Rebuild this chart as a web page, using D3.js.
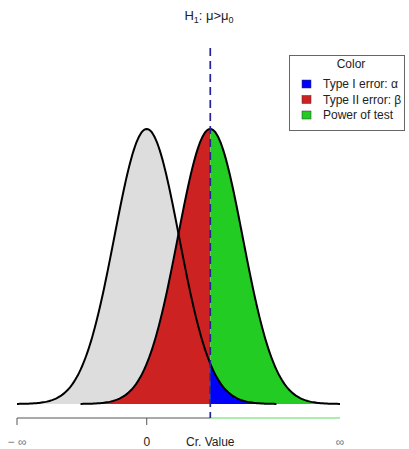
<!DOCTYPE html>
<html>
<head>
<meta charset="utf-8">
<script src="https://cdn.jsdelivr.net/npm/d3@7"></script>
<style>
  body { margin: 0; background: #fff; }
  text { font-family: "Liberation Sans", Arial, sans-serif; }
</style>
</head>
<body>
<svg width="409" height="449"></svg>
<script>
// parameters of the two distributions (standard units)
const mu0 = 0, mu1 = 1.96, sd = 1;
const critValue = 1.96;
const span = 4; // each curve drawn to +-4 sd

const legendLabels = ["Type I error: \u03b1", "Type II error: \u03b2", "Power of test"];
const legendColors = ["#0000ff", "#cc2222", "#22cc22"];
const tickValues = [mu0 - span, mu0, critValue, mu1 + span];
const tickLabels = ["\u2212 \u221e", "0", "Cr. Value", "\u221e"];

const svg = d3.select("svg");

const x = d3.scaleLinear().domain([mu0 - span, mu1 + span]).range([17, 340]);
const y = d3.scaleLinear().domain([0, 0.3989]).range([404, 129]);

const dens = (v, m) => Math.exp(-0.5 * ((v - m) / sd) ** 2) / (sd * Math.sqrt(2 * Math.PI));
const pts = (a, b, m) => d3.range(0, 201).map(i => {
  const v = a + (b - a) * i / 200;
  return [v, dens(v, m)];
});

const area = d3.area().x(d => x(d[0])).y0(y(0)).y1(d => y(d[1]));
const line = d3.line().x(d => x(d[0])).y(d => y(d[1]));

// fills
svg.append("path").attr("d", area(pts(mu0 - span, mu0 + span, mu0))).attr("fill", "#dddddd");
svg.append("path").attr("d", area(pts(mu1 - span, critValue, mu1))).attr("fill", "#cc2222");
svg.append("path").attr("d", area(pts(critValue, mu1 + span, mu1))).attr("fill", "#22cc22");
svg.append("path").attr("d", area(pts(critValue, mu0 + span, mu0))).attr("fill", "#0000ff");

// outlines
[mu0, mu1].forEach(m => {
  svg.append("path").attr("d", line(pts(m - span, m + span, m)))
    .attr("fill", "none").attr("stroke", "#000").attr("stroke-width", 2);
});

// axis
const axisY = 418;
svg.append("line").attr("x1", x(mu0 - span)).attr("x2", x(critValue))
  .attr("y1", axisY).attr("y2", axisY).attr("stroke", "#555").attr("stroke-width", 1);
svg.append("line").attr("x1", x(critValue)).attr("x2", x(mu1 + span))
  .attr("y1", axisY).attr("y2", axisY).attr("stroke", "#55dd55").attr("stroke-width", 1.2);
[tickValues[0], tickValues[1]].forEach(v => {
  svg.append("line").attr("x1", x(v)).attr("x2", x(v))
    .attr("y1", axisY).attr("y2", axisY + 7).attr("stroke", "#555");
});
tickValues.forEach((v, i) => {
  const inf = i === 0 || i === 3;
  svg.append("text").attr("x", x(v)).attr("y", 446)
    .attr("text-anchor", "middle")
    .attr("font-size", inf ? 12 : 12)
    .attr("fill", inf ? "#777" : "#222")
    .text(tickLabels[i]);
});

// critical value line
svg.append("line").attr("x1", x(critValue)).attr("x2", x(critValue))
  .attr("y1", 48).attr("y2", axisY)
  .attr("stroke", "#22229a").attr("stroke-width", 1.7)
  .attr("stroke-dasharray", "8,5");

// title
const title = svg.append("text").attr("x", 209).attr("y", 20)
  .attr("text-anchor", "middle").attr("font-size", 13).attr("fill", "#222");
title.append("tspan").text("H");
title.append("tspan").attr("font-size", 9).attr("dy", 3).text("1");
title.append("tspan").attr("dy", -3).text(": \u03bc>\u03bc");
title.append("tspan").attr("font-size", 9).attr("dy", 3).text("0");

// legend
const lg = svg.append("g");
lg.append("rect").attr("x", 289.5).attr("y", 55.5).attr("width", 115).attr("height", 75)
  .attr("fill", "#fff").attr("stroke", "#666");
lg.append("text").attr("x", 351).attr("y", 68).attr("text-anchor", "middle")
  .attr("font-size", 12).attr("fill", "#222").text("Color");
legendLabels.forEach((t, i) => {
  const yy = 84 + i * 15.5;
  lg.append("rect").attr("x", 302).attr("y", yy - 4).attr("width", 9).attr("height", 8)
    .attr("fill", legendColors[i]).attr("stroke", "#333").attr("stroke-width", 0.5);
  lg.append("text").attr("x", 323).attr("y", yy + 4).attr("font-size", 12)
    .attr("fill", "#222").text(t);
});
</script>
</body>
</html>
